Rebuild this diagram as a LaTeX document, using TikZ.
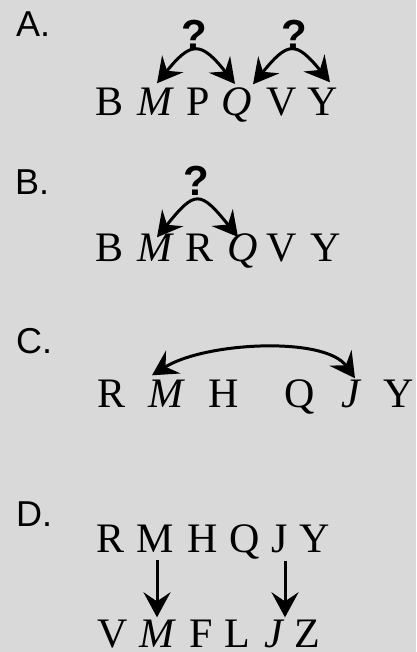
\documentclass[tikz,border=0pt]{standalone}
\usepackage{fontspec}
\setmainfont{Liberation Serif}
\newfontfamily\lblfont{Liberation Sans}
\usetikzlibrary{arrows.meta}
\definecolor{bg}{RGB}{217,217,217}
\tikzset{
  ltr/.style={inner sep=0pt, anchor=base, font=\fontsize{42}{42}\selectfont},
  iltr/.style={ltr, font=\fontsize{42}{42}\selectfont\itshape},
  qmark/.style={inner sep=0pt, anchor=base, font=\fontsize{42}{42}\selectfont\lblfont\bfseries},
  rowlbl/.style={inner sep=0pt, anchor=base west, font=\fontsize{36}{36}\selectfont\lblfont},
  bigtip/.tip={Stealth[length=25pt, width=27pt, inset=9pt]},
  arr/.style={line width=3pt, -bigtip},
  dbl/.style={line width=3pt, bigtip-bigtip}
}
\begin{document}
\begin{tikzpicture}[x=1pt, y=-1pt]
\fill[bg] (0,0) rectangle (416,652);
\useasboundingbox (0,0) rectangle (416,652);

% ---------- A ----------
\node[rowlbl] (lA) at (16,37) {A.};
\node[ltr]  (aB) at (110,116) {B};
\node[iltr] (aM) at (155,116) {M};
\node[ltr]  (aP) at (198.5,116) {P};
\node[iltr] (aQ) at (237,116) {Q};
\node[ltr]  (aV) at (281.5,116) {V};
\node[ltr]  (aY) at (322.5,116) {Y};
\node[qmark] (aq1) at (194,50) {?};
\node[qmark] (aq2) at (294,50) {?};
\coordinate (a1L) at ([xshift=2pt,yshift=5pt]aM.north);
\coordinate (a1R) at ([xshift=-2pt,yshift=4pt]aQ.north);
\coordinate (a2L) at ([xshift=-28.5pt,yshift=4pt]aV.north);
\coordinate (a2R) at ([xshift=7.5pt,yshift=6pt]aY.north);
\draw[dbl] (a1L) .. controls (191,41) and (201,41) .. (a1R);
\draw[dbl] (a2L) .. controls (288,41) and (296,41) .. (a2R);

% ---------- B ----------
\node[rowlbl] (lB) at (15,194) {B.};
\node[ltr]  (bB) at (110,261) {B};
\node[iltr] (bM) at (155,261) {M};
\node[ltr]  (bR) at (200,261) {R};
\node[iltr] (bQ) at (243,261) {Q};
\node[ltr]  (bV) at (282,261) {V};
\node[ltr]  (bY) at (325.5,261) {Y};
\node[qmark] (bq) at (196,196) {?};
\coordinate (bL) at ([xshift=2pt,yshift=-4pt]bM.north);
\coordinate (bRt) at ([xshift=-5pt,yshift=-4pt]bQ.north);
\draw[dbl] (bL) .. controls (195,190) and (200,190) .. (bRt);

% ---------- C ----------
\node[rowlbl] (lC) at (16,353) {C.};
\node[ltr]  (cR) at (112,407) {R};
\node[iltr] (cM) at (166,407) {M};
\node[ltr]  (cH) at (224,407) {H};
\node[ltr]  (cQ) at (300,407) {Q};
\node[iltr] (cJ) at (351,407) {J};
\node[ltr]  (cY) at (398.5,407) {Y};
\coordinate (cL) at ([xshift=-14pt,yshift=4pt]cM.north);
\coordinate (cRt) at ([xshift=4pt,yshift=1pt]cJ.north);
\draw[dbl] (cL) .. controls (205,342) and (325,336) .. (cRt);

% ---------- D ----------
\node[rowlbl] (lD) at (16,526) {D.};
\node[ltr] (tR) at (111,552) {R};
\node[ltr] (tM) at (155.5,552) {M};
\node[ltr] (tH) at (202.5,552) {H};
\node[ltr] (tQ) at (245,552) {Q};
\node[ltr] (tJ) at (280,552) {J};
\node[ltr] (tY) at (314.5,552) {Y};
\node[ltr]  (uV) at (113,647) {V};
\node[iltr] (uM) at (157,647) {M};
\node[ltr]  (uF) at (201.5,647) {F};
\node[ltr]  (uL) at (237.5,647) {L};
\node[iltr] (uJ) at (273.5,647) {J};
\node[ltr]  (uZ) at (307.5,647) {Z};
\draw[arr] ([xshift=1.5pt,yshift=-8pt]tM.south) -- ([xshift=1.5pt,yshift=2pt]tM.south |- uM.north);
\draw[arr] ([xshift=5pt,yshift=-8pt]tJ.south) -- ([xshift=5pt,yshift=2pt]tJ.south |- uJ.north);
\end{tikzpicture}
\end{document}
